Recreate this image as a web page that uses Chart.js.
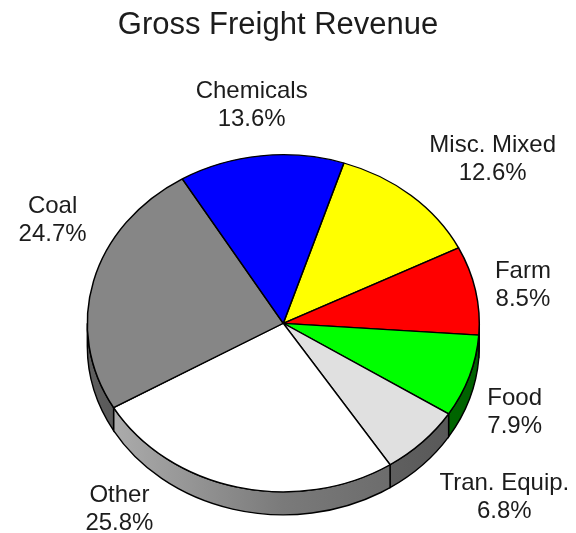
<!DOCTYPE html>
<html>
<head>
<title>Gross Freight Revenue</title>
<script src="https://cdn.jsdelivr.net/npm/chart.js"></script>
<style>
  html, body { margin: 0; padding: 0; background: #fff; }
  #wrap { width: 576px; height: 533px; }
</style>
</head>
<body>
<div id="wrap"><canvas id="pie"></canvas></div>
<script>
const categories = ['Misc. Mixed', 'Farm', 'Food', 'Tran. Equip.', 'Other', 'Coal', 'Chemicals'];
const shares = [12.6, 8.5, 7.9, 6.8, 25.8, 24.7, 13.6];
const sliceColors = ['#ffff00', '#ff0000', '#00ff00', '#e0e0e0', '#ffffff', '#868686', '#0000ff'];

// extra pixel offsets for each label, on top of the radial placement
const labelShift = {
  'Misc. Mixed': [56, -6],
  'Farm': [9, 8],
  'Food': [8, 33],
  'Tran. Equip.': [54, 40],
  'Other': [-109, -2],
  'Coal': [-3, -46],
  'Chemicals': [-5, -13]
};

const TILT = 0.86;   // vertical squash of the pie
const DEPTH = 23;    // thickness of the side wall, px
const FONT = '"Liberation Sans", Arial, sans-serif';

function shade(hex, f) {
  const n = parseInt(hex.slice(1), 16);
  const r = Math.round(((n >> 16) & 255) * f);
  const g = Math.round(((n >> 8) & 255) * f);
  const b = Math.round((n & 255) * f);
  return `rgb(${r},${g},${b})`;
}

// parts of [s, e] that face the viewer (canvas angles 0..PI, mod 2PI)
function frontParts(s, e) {
  const out = [];
  for (let k = -2; k <= 2; k++) {
    const lo = Math.max(s, k * 2 * Math.PI);
    const hi = Math.min(e, k * 2 * Math.PI + Math.PI);
    if (hi > lo) out.push([lo, hi]);
  }
  return out;
}

const pie3d = {
  id: 'pie3d',
  beforeDatasetsDraw(chart) {
    const ctx = chart.ctx;
    const arcs = chart.getDatasetMeta(0).data;
    const { x, y, outerRadius: r } = arcs[0];
    const base = ctx.getTransform();
    ctx.save();
    arcs.forEach((arc, i) => {
      frontParts(arc.startAngle, arc.endAngle).forEach(([lo, hi]) => {
        const d = DEPTH / TILT;
        ctx.setTransform(base);
        ctx.translate(x, y); ctx.scale(1, TILT); ctx.translate(-x, -y);
        ctx.beginPath();
        ctx.arc(x, y, r, lo, hi);
        ctx.arc(x, y + d, r, hi, lo, true);
        ctx.closePath();
        ctx.setTransform(base);
        const g = ctx.createLinearGradient(x - r, 0, x + r, 0);
        g.addColorStop(0, shade(sliceColors[i], 0.7));
        g.addColorStop(0.5, shade(sliceColors[i], 0.48));
        g.addColorStop(1, shade(sliceColors[i], 0.38));
        ctx.fillStyle = g;
        ctx.fill();
        ctx.lineWidth = 1.4;
        ctx.strokeStyle = '#000';
        ctx.stroke();
      });
    });
    // top face is drawn by Chart.js under this squashed transform
    ctx.setTransform(base);
    ctx.translate(x, y); ctx.scale(1, TILT); ctx.translate(-x, -y);
  },
  afterDatasetsDraw(chart) {
    const ctx = chart.ctx;
    ctx.restore();
    const arcs = chart.getDatasetMeta(0).data;
    const { x, y, outerRadius: r } = arcs[0];
    ctx.save();
    ctx.fillStyle = '#1c1c1c';
    ctx.textAlign = 'center';
    ctx.textBaseline = 'alphabetic';
    ctx.font = '31px ' + FONT;
    ctx.fillText('Gross Freight Revenue', 278, 34);
    ctx.font = '24px ' + FONT;
    const rx = r * 1.2, ry = r * 1.02;
    arcs.forEach((arc, i) => {
      const mid = (arc.startAngle + arc.endAngle) / 2;
      const [dx, dy] = labelShift[categories[i]];
      const lx = x + Math.cos(mid) * rx + dx;
      const ly = y + Math.sin(mid) * ry + dy;
      ctx.fillText(categories[i], lx, ly - 14);
      ctx.fillText(shares[i].toFixed(1) + '%', lx, ly + 14);
    });
    ctx.restore();
  }
};

new Chart(document.getElementById('pie'), {
  type: 'pie',
  data: {
    labels: categories,
    datasets: [{
      data: shares,
      backgroundColor: sliceColors,
      borderColor: '#000',
      borderWidth: 1.5,
      radius: 196,
      clip: false
    }]
  },
  options: {
    responsive: true,
    maintainAspectRatio: false,
    animation: false,
    events: [],
    rotation: 18,
    layout: { padding: { left: 0, right: 9.4, top: 113.6, bottom: 0 } },
    plugins: {
      legend: { display: false },
      tooltip: { enabled: false },
      title: { display: false }
    }
  },
  plugins: [pie3d]
});
</script>
</body>
</html>
